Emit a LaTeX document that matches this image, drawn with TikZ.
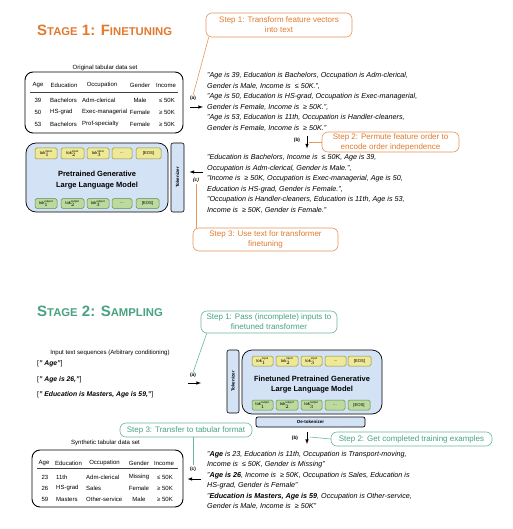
\documentclass[tikz,border=0pt]{standalone}
\usepackage{fontspec}
\setmainfont{Liberation Sans}
\setsansfont{Liberation Sans}
\usepackage{amsmath}
\usetikzlibrary{positioning}
\usetikzlibrary{arrows}
\definecolor{orng}{RGB}{226,122,46}
\definecolor{orngline}{RGB}{232,150,92}
\definecolor{grn}{RGB}{72,163,128}
\definecolor{grnline}{RGB}{108,184,152}
\definecolor{llmblue}{RGB}{212,226,246}
\definecolor{yelfill}{RGB}{238,233,150}
\definecolor{yelline}{RGB}{150,142,60}
\definecolor{grnfill}{RGB}{188,218,158}
\definecolor{grnbline}{RGB}{95,140,75}
\newcommand{\tok}[2]{tok$_{#1}^{\text{#2}}$}

\begin{document}
\begin{tikzpicture}[x=1pt,y=-1pt,
		title/.style={anchor=west,inner sep=0,font=\bfseries},
		stepbox/.style={draw,rounded corners=6pt,fill=white,align=center,inner sep=1pt,line width=0.6pt,font=\fontsize{8}{10}\selectfont},
		orngbox/.style={stepbox,draw=orngline,text=orng},
		grnbox/.style={stepbox,draw=grnline,text=grn},
		listtxt/.style={anchor=north west,inner sep=0,align=left,font=\fontsize{7.2}{10.5}\selectfont\itshape},
		cell/.style={inner sep=0,font=\fontsize{6}{7}\selectfont},
		tablebox/.style={draw,line width=0.9pt,rounded corners=8pt,inner sep=0},
		caption/.style={inner sep=0,font=\fontsize{6.1}{7}\selectfont},
		llm/.style={draw,line width=0.7pt,fill=llmblue,rounded corners=10pt,inner sep=0},
		llmtxt/.style={inner sep=0,align=center,font=\fontsize{7.5}{10.5}\selectfont\bfseries},
		tokbar/.style={draw,line width=0.6pt,fill=llmblue,rounded corners=2pt,inner sep=0,rotate=90,font=\fontsize{4.5}{5}\selectfont\bfseries},
		tokin/.style={draw=yelline,fill=yelfill,line width=0.5pt,rounded corners=1.5pt,inner sep=0,minimum height=11,font=\fontsize{4.2}{5}\selectfont},
		tokout/.style={tokin,draw=grnbline,fill=grnfill,minimum height=9.5},
		lbl/.style={inner sep=0,font=\fontsize{4.8}{5}\selectfont\bfseries},
		arr/.style={-latex,line width=0.6pt},
	]
	\fill[white] (0,0) rectangle (512,529);
	\useasboundingbox (0,0) rectangle (512,529);

	% Stage 1
	\node[title,text=orng] (title1) at (37,30) {{\fontsize{15}{16}\selectfont S}{\fontsize{11.3}{12}\selectfont TAGE}{\fontsize{15}{16}\selectfont{} 1: F}{\fontsize{11.3}{12}\selectfont INETUNING}};

	% Original table
	\node[caption] (cap1) at (105,68) {Original tabular data set};
	\node[tablebox,minimum width=158,minimum height=61] (tab1) at (104,102.5) {};
	\node[cell] (h1a) at (38,85) {Age};
	\node[cell] (h1e) at (64,85) {Education};
	\node[cell] (h1o) at (102,85) {Occupation};
	\node[cell] (h1g) at (140,85) {Gender};
	\node[cell] (h1i) at (166,85) {Income};
	\draw[line width=0.5pt,black!75] (30,92) -- (178,92);
	\foreach \age/\edu/\occ/\gen/\inc [count=\r] in {39/Bachelors/Adm-clerical/Male/≤ 50K,50/HS-grad/Exec-managerial/Female/≥ 50K,53/Bachelors/Prof-specialty/Female/≥ 50K}{
		\pgfmathsetmacro{\yy}{88+12*\r}
		\node[cell] (o\r-a) at (38,\yy) {\age};
		\node[cell,anchor=west] (o\r-e) at (50,\yy) {\edu};
		\node[cell,anchor=west] (o\r-o) at (82,\yy) {\occ};
		\node[cell] (o\r-g) at (140,\yy) {\gen};
		\node[cell] (o\r-i) at (167,\yy) {\inc};
	}

	% Pretrained model and tokenizer
	\node[llm,minimum width=142,minimum height=69] (llm1) at (97,177.5) {};
	\node[llmtxt] (llm1txt) at (97,180) {Pretrained Generative\\Large Language Model};
	\node[tokbar,minimum width=69,minimum height=13] (tk1) at (177.5,177.5) {Tokenizer};
	\foreach \n/\x/\w in {1/46/22,2/72.5/23,3/98/22}{
		\node[tokin,minimum width=\w] (pin\n) at (\x,153.5) {\tok{\n}{input}};
		\node[tokout,minimum width=\w] (pout\n) at (\x,203.5) {\tok{\n}{output}};
	}
	\node[tokin,minimum width=20] (pin4) at (122,153.5) {...};
	\node[tokin,minimum width=25] (pin5) at (148.5,153.5) {[EOS]};
	\node[tokout,minimum width=20] (pout4) at (122,203.5) {...};
	\node[tokout,minimum width=23] (pout5) at (147.5,203.5) {[EOS]};

	% Text versions
	\node[listtxt] (txt1) at (207,72.5) {"Age is 39, Education is Bachelors, Occupation is Adm-clerical,\\Gender is Male, Income is ~≤ 50K.",\\"Age is 50, Education is HS-grad, Occupation is Exec-managerial,\\Gender is Female, Income is ~≥ 50K.",\\"Age is 53, Education is 11th, Occupation is Handler-cleaners,\\Gender is Female, Income is ~≥ 50K."};
	\node[listtxt] (txt2) at (207,154.5) {"Education is Bachelors, Income is ~≤ 50K, Age is 39,\\Occupation is Adm-clerical, Gender is Male.",\\"Income is ~≥ 50K, Occupation is Exec-managerial, Age is 50,\\Education is HS-grad, Gender is Female.",\\"Occupation is Handler-cleaners, Education is 11th, Age is 53,\\Income is ~≥ 50K, Gender is Female."};

	% Steps
	\node[orngbox,minimum width=146,minimum height=24] (step1) at (279,25) {Step 1: Transform feature vectors\\into text};
	\node[orngbox,minimum width=137,minimum height=20] (step2) at (390.5,142) {Step 2: Permute feature order to\\encode order independence};
	\node[orngbox,minimum width=145,minimum height=23] (step3) at (265.5,239.5) {Step 3: Use text for transformer\\finetuning};

	% Arrows
	\node[lbl] (la1) at (193,98) {(a)};
	\coordinate (a1s) at (190,107);
	\coordinate (a1e) at (203,107);
	\draw[arr] (a1s) -- (a1e);
	\node[lbl] (lb1) at (297,140) {(b)};
	\coordinate (b1s) at (307,136);
	\coordinate (b1e) at (307,148.5);
	\draw[arr] (b1s) -- (b1e);
	\node[lbl,font=\fontsize{4.8}{5}\selectfont\bfseries\itshape] (lc1) at (196,180) {(c)};
	\coordinate (c1s) at (203,172);
	\coordinate (c1e) at (189.5,172);
	\draw[arr] (c1s) -- (c1e);

	% Callout lines
	\draw[orngline,line width=0.6pt] ([xshift=3pt]step1.south west) -- (la1.north);
	\draw[orngline,line width=0.6pt] (step2.west) -- (309,142);
	\draw[orngline,line width=0.6pt] ([yshift=-2pt]lc1.south) -- (lc1.south |- step3.north);

	% Stage 2
	\node[title,text=grn] (title2) at (37,311) {{\fontsize{15}{16}\selectfont S}{\fontsize{11.3}{12}\selectfont TAGE}{\fontsize{15}{16}\selectfont{} 2: S}{\fontsize{11.3}{12}\selectfont AMPLING}};

	% Input sequences
	\node[caption] (cap2) at (110,353) {Input text sequences (Arbitrary conditioning)};
	\node[anchor=west,inner sep=0,font=\fontsize{6.8}{8}\selectfont] (seq1) at (37,364) {[\textbf{\textit{" Age"}}]};
	\node[anchor=west,inner sep=0,font=\fontsize{6.8}{8}\selectfont] (seq2) at (37,380) {[\textbf{\textit{" Age is 26,"}}]};
	\node[anchor=west,inner sep=0,font=\fontsize{6.8}{8}\selectfont] (seq3) at (37,395) {[\textbf{\textit{" Education is Masters, Age is 59,"}}]};

	% Finetuned model
	\node[tokbar,minimum width=63,minimum height=12] (tk2) at (233,381.5) {Tokenizer};
	\node[llm,minimum width=140,minimum height=64] (llm2) at (312,382) {};
	\node[llmtxt] (llm2txt) at (312,384.5) {Finetuned Pretrained Generative\\Large Language Model};
	\foreach \n/\x/\w in {1/262.5/21,2/287/22,3/311.5/21}{
		\node[tokin,minimum width=\w,minimum height=10] (fin\n) at (\x,361) {\tok{\n}{input}};
		\node[tokout,minimum width=\w,minimum height=10] (fout\n) at (\x,405) {\tok{\n}{output}};
	}
	\node[tokin,minimum width=21,minimum height=10] (fin4) at (335.5,361) {...};
	\node[tokin,minimum width=23,minimum height=10] (fin5) at (359.5,361) {[EOS]};
	\node[tokout,minimum width=20,minimum height=10] (fout4) at (335,405) {...};
	\node[tokout,minimum width=22,minimum height=10] (fout5) at (359,405) {[EOS]};
	\node[draw,line width=0.7pt,fill=llmblue,rounded corners=2pt,inner sep=0,minimum width=109,minimum height=10,font=\fontsize{4.5}{5}\selectfont\bfseries] (detok) at (310.5,422) {De-tokenizer};

	% Generated text
	\node[listtxt] (gen) at (207,451) {"\textbf{Age} is 23, Education is 11th, Occupation is Transport-moving,\\Income is ~≤ 50K, Gender is Missing"\\"\textbf{Age is 26}, Income is ~≥ 50K, Occupation is Sales, Education is\\HS-grad, Gender is Female"\\"\textbf{Education is Masters, Age is 59}, Occupation is Other-service,\\Gender is Male, Income is ~≥ 50K"};

	% Synthetic table
	\node[caption] (cap3) at (105.5,443) {Synthetic tabular data set};
	\node[tablebox,minimum width=151,minimum height=57] (tab2) at (107.5,478.5) {};
	\node[cell] (h2a) at (44,463) {Age};
	\node[cell] (h2e) at (68.5,463) {Education};
	\node[cell] (h2o) at (104.5,463) {Occupation};
	\node[cell] (h2g) at (139,463) {Gender};
	\node[cell] (h2i) at (164,463) {Income};
	\draw[line width=0.5pt,black!75] (37,468) -- (178,468);
	\foreach \age/\edu/\occ/\gen/\inc [count=\r] in {23/11th/Adm-clerical/Missing/≤ 50K,26/HS-grad/Sales/Female/≥ 50K,59/Masters/Other-service/Male/≥ 50K}{
		\pgfmathsetmacro{\yy}{466+11*\r}
		\node[cell] (s\r-a) at (45,\yy) {\age};
		\node[cell,anchor=west] (s\r-e) at (56,\yy) {\edu};
		\node[cell,anchor=west] (s\r-o) at (86,\yy) {\occ};
		\node[cell] (s\r-g) at (139,\yy) {\gen};
		\node[cell] (s\r-i) at (165,\yy) {\inc};
	}

	% Steps
	\node[grnbox,minimum width=136,minimum height=22] (step1b) at (269,322) {Step 1: Pass (incomplete) inputs to\\finetuned transformer};
	\node[grnbox,minimum width=161,minimum height=14] (step2b) at (411.5,439) {Step 2: Get completed training examples};
	\node[grnbox,minimum width=132,minimum height=14] (step3b) at (186,430) {Step 3: Transfer to tabular format};

	% Arrows
	\node[lbl] (la2) at (193,375) {(a)};
	\coordinate (a2s) at (188,383);
	\coordinate (a2e) at (201,383);
	\draw[arr] (a2s) -- (a2e);
	\node[lbl] (lb2) at (295,438) {(b)};
	\coordinate (b2s) at (307,432);
	\coordinate (b2e) at (307,444);
	\draw[arr] (b2s) -- (b2e);
	\node[lbl] (lc2) at (193,469) {(c)};
	\coordinate (c2s) at (201,479);
	\coordinate (c2e) at (187.5,479);
	\draw[arr] (c2s) -- (c2e);

	% Callout lines
	\draw[grnline,line width=0.6pt] ([xshift=6pt]step1b.south west) -- (la2.north);
	\draw[grnline,line width=0.6pt] (step2b.west) -- (310,437);
	\draw[grnline,line width=0.6pt] ([xshift=7pt]step3b.south) -- ([yshift=2pt]lc2.north);
\end{tikzpicture}
\end{document}
